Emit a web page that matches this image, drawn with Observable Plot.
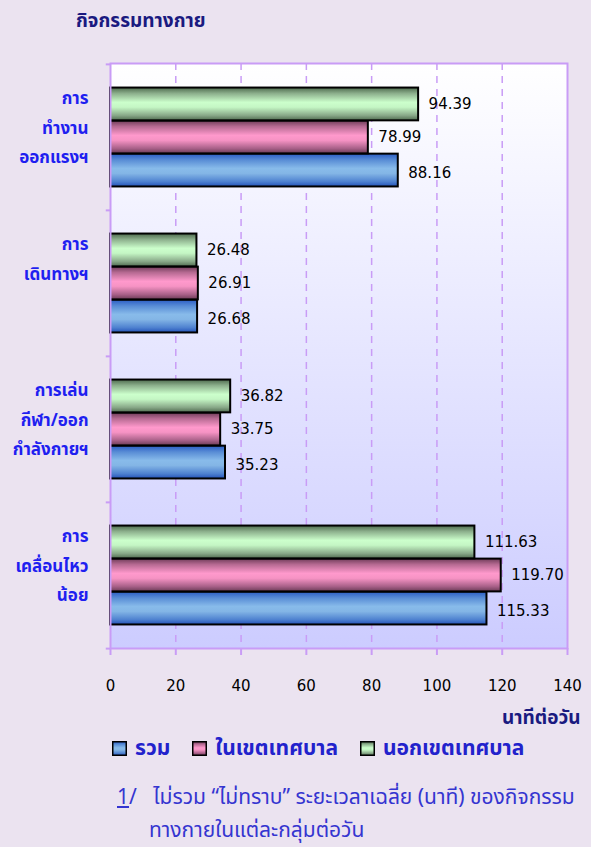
<!DOCTYPE html>
<html><head><meta charset="utf-8">
<script src="https://cdn.jsdelivr.net/npm/d3@7"></script>
<script src="https://cdn.jsdelivr.net/npm/@observablehq/plot@0.6"></script>
<style>
body{margin:0;background:#ebe3f0;width:591px;height:847px;overflow:hidden;position:relative;font-family:Tahoma,"Noto Sans Thai","Noto Sans","DejaVu Sans",sans-serif;}
#title{position:absolute;left:76px;top:8px;font-size:19px;font-weight:bold;color:#1a1a80;line-height:28px;white-space:nowrap;}
#chart{position:absolute;left:0;top:42px;}
#legend{position:absolute;left:112px;top:735px;height:26px;display:flex;align-items:center;font-size:21px;font-weight:bold;color:#2222cc;white-space:nowrap;}
#legend .item{display:flex;align-items:center;margin-right:22px;}
.note{position:absolute;font-size:21px;color:#3535d0;line-height:22px;height:22px;white-space:nowrap;}
#n1{left:117px;top:787px;}
#n2{left:149px;top:820px;}
</style>
</head><body>
<div id="title"></div>
<div id="chart"></div>
<div id="legend"></div>
<div class="note" id="n1"></div>
<div class="note" id="n2"></div>
<script>
const titleText = "กิจกรรมทางกาย";
const categories = ["การ\nทำงาน\nออกแรงฯ", "การ\nเดินทางฯ", "การเล่น\nกีฬา/ออก\nกำลังกายฯ", "การ\nเคลื่อนไหว\nน้อย"];
const seriesNames = ["รวม", "ในเขตเทศบาล", "นอกเขตเทศบาล"];
const total = [88.16, 26.68, 35.23, 115.33];
const municipal = [78.99, 26.91, 33.75, 119.70];
const nonMunicipal = [94.39, 26.48, 36.82, 111.63];
const xTicks = [0, 20, 40, 60, 80, 100, 120, 140];
const gridTicks = [20, 40, 60, 80, 100, 120];
const xLabel = "นาทีต่อวัน";
const noteMark = "1";
const noteLine1 = "ไม่รวม “ไม่ทราบ” ระยะเวลาเฉลี่ย (นาที) ของกิจกรรม";
const noteLine2 = "ทางกายในแต่ละกลุ่มต่อวัน";

const seriesValues = [total, municipal, nonMunicipal];
const gradIds = ["gBlue", "gPink", "gGreen"];
// order from top within band: green (2), pink (1), blue (0)
const slot = [2, 1, 0];

const rows = [];
categories.forEach((c, i) => seriesNames.forEach((s, k) => rows.push({cat: c, series: s, k, value: seriesValues[k][i]})));

const W = 591, H = 693, mt = 21, mb = 87, ml = 110, mr = 24;
const B = (H - mt - mb) / categories.length;
const sub = B * 0.226;
const gap = (B - 3 * sub) / 2;
const lav = "#c99cf6";
const fontFam = "Tahoma, 'Noto Sans Thai', 'DejaVu Sans', sans-serif";

const barMarks = seriesNames.map((s, k) => {
  const top = gap + slot[k] * sub;
  return Plot.barX(rows.filter(r => r.k === k), {
    x: "value", y: "cat", fill: `url(#${gradIds[k]})`, stroke: "#000", strokeWidth: 2,
    insetTop: top, insetBottom: B - top - sub
  });
});
const valueMarks = seriesNames.map((s, k) => Plot.text(rows.filter(r => r.k === k), {
  x: "value", y: "cat", text: d => d.value.toFixed(2), dx: 10, dy: (slot[k] - 1) * sub + (k === 0 ? 3 : 0),
  textAnchor: "start", fill: "#000", fontSize: 15, fontFamily: "DejaVu Sans"
}));

const plot = Plot.plot({
  width: W, height: H, marginTop: mt, marginBottom: mb, marginLeft: ml, marginRight: mr,
  style: {fontFamily: fontFam, fontSize: 15, background: "transparent", overflow: "visible"},
  x: {domain: [0, 140]},
  y: {domain: categories, padding: 0, axis: null},
  marks: [
    Plot.frame({fill: "url(#gBg)", stroke: null}),
    Plot.gridX(gridTicks, {stroke: lav, strokeOpacity: 1, strokeWidth: 1.5, strokeDasharray: "7,6"}),
    ...barMarks,
    ...valueMarks,
    Plot.frame({stroke: lav, strokeWidth: 2}),
    Plot.ruleY(categories, {y: d => d, x1: -1.3, x2: 0, dy: -B / 2, stroke: lav, strokeWidth: 2}),
    Plot.ruleY(categories.slice(-1), {y: d => d, x1: -1.3, x2: 0, dy: B / 2, stroke: lav, strokeWidth: 2}),
    Plot.axisX({ticks: xTicks, tickSize: 7, tickPadding: 25, stroke: lav, strokeWidth: 2, fill: "#000", fontSize: 15, fontFamily: "DejaVu Sans", label: null}),
    Plot.text(categories, {x: 0, y: d => d, text: d => d, dx: -22, dy: -B / 2 + 18, lineAnchor: "top", lineHeight: 1.76, textAnchor: "end", fill: "#1f1ff0", fontSize: 17, fontWeight: "bold", fontFamily: fontFam}),
    Plot.text([xLabel], {frameAnchor: "bottom-right", text: d => d, dx: 13, dy: 75, fill: "#1a1a80", fontSize: 19, fontWeight: "bold", fontFamily: fontFam})
  ]
});

const defs = `<defs>
<linearGradient id="gBg" x1="0" y1="0" x2="0" y2="1"><stop offset="0" stop-color="#ffffff"/><stop offset="1" stop-color="#ccccff"/></linearGradient>
<linearGradient id="gGreen" x1="0" y1="0" x2="0" y2="1"><stop offset="0" stop-color="#4d6a4d"/><stop offset="0.18" stop-color="#8caf8c"/><stop offset="0.45" stop-color="#ccffcc"/><stop offset="0.6" stop-color="#c4f6c4"/><stop offset="0.85" stop-color="#88a888"/><stop offset="1" stop-color="#4f6b4f"/></linearGradient>
<linearGradient id="gPink" x1="0" y1="0" x2="0" y2="1"><stop offset="0" stop-color="#6e3b58"/><stop offset="0.18" stop-color="#b66a92"/><stop offset="0.45" stop-color="#ff99cc"/><stop offset="0.6" stop-color="#f693c4"/><stop offset="0.85" stop-color="#a86088"/><stop offset="1" stop-color="#6a3a55"/></linearGradient>
<linearGradient id="gBlue" x1="0" y1="0" x2="0" y2="1"><stop offset="0" stop-color="#2a5cc4"/><stop offset="0.2" stop-color="#5a8ed6"/><stop offset="0.45" stop-color="#88bbea"/><stop offset="0.6" stop-color="#84b6e6"/><stop offset="0.85" stop-color="#4f82d0"/><stop offset="1" stop-color="#2352b8"/></linearGradient>
</defs>`;
plot.insertAdjacentHTML("afterbegin", defs);
document.getElementById("chart").appendChild(plot);
document.getElementById("title").textContent = titleText;

const n1 = document.getElementById("n1");
const u = document.createElement("u"); u.textContent = noteMark; n1.appendChild(u);
n1.appendChild(document.createTextNode("/\u00a0\u00a0\u00a0" + noteLine1));
document.getElementById("n2").textContent = noteLine2;

const legend = document.getElementById("legend");
[0, 1, 2].forEach(k => {
  const it = document.createElement("div");
  it.className = "item";
  const sw = document.createElementNS("http://www.w3.org/2000/svg", "svg");
  sw.setAttribute("width", 15); sw.setAttribute("height", 15);
  sw.style.marginRight = "8px";
  sw.innerHTML = `<rect x="0.75" y="0.75" width="13.5" height="13.5" fill="url(#${gradIds[k]})" stroke="#000" stroke-width="1.5"/>`;
  it.appendChild(sw);
  const t = document.createElement("span");
  t.textContent = seriesNames[k];
  it.appendChild(t);
  legend.appendChild(it);
});
</script>
</body></html>
